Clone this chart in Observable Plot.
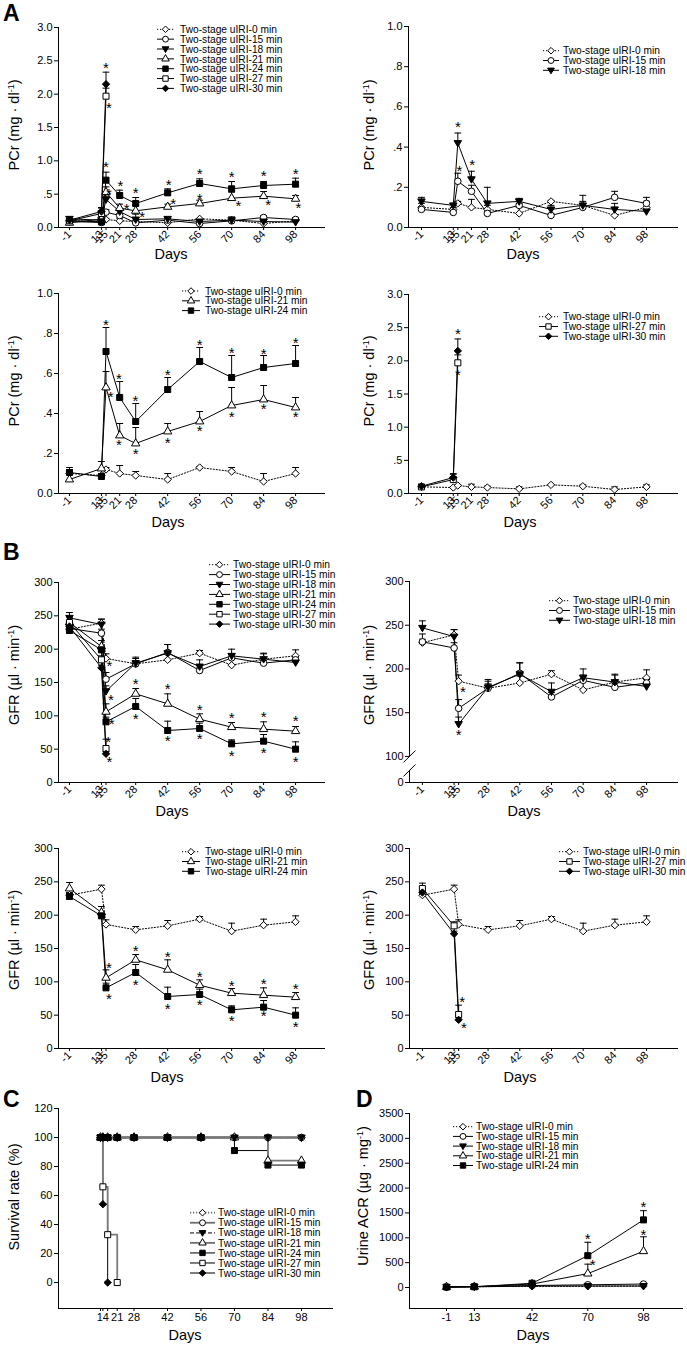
<!DOCTYPE html>
<html><head><meta charset="utf-8">
<script src="https://cdn.jsdelivr.net/npm/d3@7"></script>
<script src="https://cdn.jsdelivr.net/npm/@observablehq/plot@0.6"></script>
<style>
body{margin:0;background:#fff}
#page{position:relative;width:687px;height:1345px;overflow:hidden;background:#fff}
</style></head>
<body><div id="page"></div>
<script>
// ---------- DATA ----------
const groupKeys = [0, 15, 18, 21, 24, 27, 30];
const seriesLabels = ["Two-stage uIRI-0 min","Two-stage uIRI-15 min","Two-stage uIRI-18 min","Two-stage uIRI-21 min","Two-stage uIRI-24 min","Two-stage uIRI-27 min","Two-stage uIRI-30 min"];

// PCr (mg/dl)
const pcrDays = [-1, 13, 15, 21, 28, 42, 56, 70, 84, 98];
const pcrDaysEarly = [-1, 13, 15];
const pcr0 = [0.10, 0.09, 0.12, 0.10, 0.09, 0.07, 0.13, 0.11, 0.06, 0.10];
const pcr0Sem = [0.02, 0.01, 0.01, 0.04, 0.02, 0.03, 0.005, 0.02, 0.04, 0.03];
const pcr15 = [0.09, 0.075, 0.23, 0.18, 0.07, 0.11, 0.06, 0.10, 0.15, 0.12];
const pcr15Sem = [0.01, 0.01, 0.04, 0.03, 0.01, 0.01, 0.01, 0.01, 0.03, 0.03];
const pcr18 = [0.13, 0.11, 0.42, 0.24, 0.12, 0.13, 0.09, 0.11, 0.09, 0.08];
const pcr18Sem = [0.02, 0.01, 0.05, 0.04, 0.08, 0.015, 0.02, 0.05, 0.03, 0.02];
const pcr21 = [0.07, 0.125, 0.53, 0.29, 0.25, 0.31, 0.36, 0.44, 0.47, 0.43];
const pcr21Sem = [0.03, 0.035, 0.08, 0.06, 0.08, 0.04, 0.05, 0.09, 0.07, 0.05];
const pcr24 = [0.105, 0.085, 0.71, 0.48, 0.36, 0.52, 0.66, 0.58, 0.63, 0.65];
const pcr24Sem = [0.025, 0.01, 0.12, 0.08, 0.09, 0.06, 0.07, 0.11, 0.06, 0.09];
const pcr27 = [0.10, 0.21, 1.97];
const pcr27Sem = [0.02, 0.08, 0.12];
const pcr30 = [0.11, 0.24, 2.15];
const pcr30Sem = [0.02, 0.06, 0.18];

// GFR (µl/min)
const gfrDays = [-1, 13, 15, 28, 42, 56, 70, 84, 98];
const gfrDaysEarly = [-1, 13, 15];
const gfr0 = [230, 239, 186, 178, 184, 194, 176, 185, 190];
const gfr0Sem = [4, 6, 7, 5, 8, 4, 12, 9, 9];
const gfr15 = [231, 224, 155, 178, 195, 168, 187, 179, 184];
const gfr15Sem = [9, 6, 10, 8, 12, 5, 6, 4, 6];
const gfr18 = [247, 237, 137, 179, 194, 174, 190, 185, 180];
const gfr18Sem = [8, 8, 8, 9, 13, 10, 10, 8, 8];
const gfr21 = [240, 204, 106, 133, 118, 95, 83, 80, 77];
const gfr21Sem = [9, 9, 12, 8, 15, 8, 7, 11, 7];
const gfr24 = [228, 199, 91, 114, 78, 81, 58, 62, 50];
const gfr24Sem = [5, 4, 7, 12, 14, 8, 6, 10, 11];
const gfr27 = [240, 184, 51];
const gfr27Sem = [8, 6, 14];
const gfr30 = [234, 172, 43];
const gfr30Sem = [4, 4, 3];

// Survival rate (%)
const survDays = [14, 15, 17, 21, 28, 42, 56, 70, 84, 98];
const surv0 = [100, 100, 100, 100, 100, 100, 100, 100, 100, 100];
const surv15 = [100, 100, 100, 100, 100, 100, 100, 100, 100, 100];
const surv18 = [100, 100, 100, 100, 100, 100, 100, 100, 100, 100];
const surv21 = [100, 100, 100, 100, 100, 100, 100, 100, 84, 84];
const surv24 = [100, 100, 100, 100, 100, 100, 100, 91, 81, 81];
const surv27Days = [14, 15, 17, 21];
const surv27 = [100, 66, 33, 0];
const surv30Days = [14, 15, 17];
const surv30 = [100, 54, 0];

// Urine ACR (µg/mg)
const acrDays = [-1, 13, 42, 70, 98];
const acr0 = [10, 15, 25, 25, 30];
const acr0Sem = [2, 3, 5, 5, 8];
const acr15 = [10, 20, 40, 55, 70];
const acr15Sem = [2, 4, 8, 12, 15];
const acr18 = [10, 15, 30, 30, 30];
const acr18Sem = [2, 3, 6, 6, 8];
const acr21 = [10, 15, 70, 280, 730];
const acr21Sem = [2, 3, 15, 190, 290];
const acr24 = [10, 15, 85, 640, 1360];
const acr24Sem = [2, 3, 20, 270, 185];

// significance asterisks [day, value]
const starsA1 = [[15,2.45],[16.3,1.85],[15,0.97],[16.3,0.565],[21.3,0.675],[28,0.575],[42.4,0.70],[56,0.855],[70,0.815],[84,0.825],[98,0.865],[24,0.33],[30.8,0.21],[44.4,0.415],[56,0.48],[73,0.375],[86,0.40],[99.2,0.35]];
const starsA2 = [[15,0.52],[15.7,0.30],[21.3,0.33]];
const starsA3 = [[15,0.863],[20.6,0.59],[27.9,0.48],[42,0.61],[56,0.763],[70,0.72],[84,0.718],[98,0.77],[17,0.50],[20.6,0.26],[28,0.215],[42,0.27],[56,0.33],[70,0.40],[84,0.44],[98,0.40]];
const starsA4 = [[15,2.46],[15,1.85]];
const starsB1 = [[16.5,180],[17.2,130],[17.5,93],[16,66],[16.5,36],[28,154],[42,145.5],[56,115],[70,102.5],[84,104],[98,97.5],[28,101.5],[42,67.5],[56,70.5],[70,45],[84,50],[98,36.5]];
const starsB2 = [[15,129],[16.9,178]];
const starsB3 = [[16.3,126],[28,151.7],[42,142.8],[56,113],[70,99.5],[84,103],[98,94.5],[16.3,80.6],[28,100.5],[42,64.7],[56,70.6],[70,46.3],[84,54.7],[98,37.3]];
const starsB4 = [[16.6,75],[17.3,37]];
const starsD = [[70,1043],[98,1696],[72.5,538],[98,1130]];

// tick values
const ticksA = [-1, 13, 15, 21, 28, 42, 56, 70, 84, 98];
const ticksB = [-1, 13, 15, 28, 42, 56, 70, 84, 98];
const ticksC = [14, 15, 17, 21, 28, 42, 56, 70, 84, 98];
const ticksD = [-1, 13, 42, 70, 98];

// ---------- BUILD ----------
const FONT = "'Liberation Sans', Arial, Helvetica, sans-serif";
const page = document.getElementById("page");

const invTriangle = {draw(ctx, size) { const r = Math.sqrt(size / Math.PI); ctx.moveTo(-1.3 * r, -0.85 * r); ctx.lineTo(1.3 * r, -0.85 * r); ctx.lineTo(0, 1.35 * r); ctx.closePath(); }};
const capSym = {draw(ctx, size) { const r = Math.sqrt(size / Math.PI); ctx.moveTo(-r, 0); ctx.lineTo(r, 0); }};
const slashSym = {draw(ctx, size) { const r = Math.sqrt(size / Math.PI); ctx.moveTo(-r, r); ctx.lineTo(r, -r); }};

const style = {
  0: {symbol: d3.symbolDiamond2, fill: "white", dash: "1.2,1.8", r: 3.3},
  15: {symbol: d3.symbolCircle, fill: "white", r: 3.3},
  18: {symbol: invTriangle, fill: "black", r: 2.9},
  21: {symbol: d3.symbolTriangle, fill: "white", r: 3.1},
  24: {symbol: d3.symbolSquare, fill: "black", r: 3.4},
  27: {symbol: d3.symbolSquare, fill: "white", r: 3.4},
  30: {symbol: d3.symbolDiamond2, fill: "black", r: 3.3}
};

function rows(days, mean, sem, g) { return days.map((day, i) => ({day, v: mean[i], sem: sem ? sem[i] : 0, g})); }

const pcrRows = [
  ...rows(pcrDays, pcr0, pcr0Sem, 0), ...rows(pcrDays, pcr15, pcr15Sem, 15), ...rows(pcrDays, pcr18, pcr18Sem, 18),
  ...rows(pcrDays, pcr21, pcr21Sem, 21), ...rows(pcrDays, pcr24, pcr24Sem, 24),
  ...rows(pcrDaysEarly, pcr27, pcr27Sem, 27), ...rows(pcrDaysEarly, pcr30, pcr30Sem, 30)];
const gfrRows = [
  ...rows(gfrDays, gfr0, gfr0Sem, 0), ...rows(gfrDays, gfr15, gfr15Sem, 15), ...rows(gfrDays, gfr18, gfr18Sem, 18),
  ...rows(gfrDays, gfr21, gfr21Sem, 21), ...rows(gfrDays, gfr24, gfr24Sem, 24),
  ...rows(gfrDaysEarly, gfr27, gfr27Sem, 27), ...rows(gfrDaysEarly, gfr30, gfr30Sem, 30)];
const survRows = [
  ...rows(survDays, surv0, null, 0), ...rows(survDays, surv15, null, 15), ...rows(survDays, surv18, null, 18),
  ...rows(survDays, surv21, null, 21), ...rows(survDays, surv24, null, 24),
  ...rows(surv27Days, surv27, null, 27), ...rows(surv30Days, surv30, null, 30)];
const acrRows = [
  ...rows(acrDays, acr0, acr0Sem, 0), ...rows(acrDays, acr15, acr15Sem, 15), ...rows(acrDays, acr18, acr18Sem, 18),
  ...rows(acrDays, acr21, acr21Sem, 21), ...rows(acrDays, acr24, acr24Sem, 24)];

function seriesMarks(data, groups, opt = {}) {
  const curve = opt.curve || "linear";
  const lineColor = opt.lineColor || (() => "black");
  const lineWidth = opt.lineWidth || (() => 1);
  const dotOrder = opt.dotOrder || groups;
  const marks = [];
  for (const g of (opt.lineOrder || groups)) {
    const d = data.filter(r => r.g === g);
    marks.push(Plot.line(d, {x: "day", y: "v", curve, stroke: lineColor(g), strokeWidth: lineWidth(g), strokeDasharray: style[g].dash}));
  }
  if (opt.errors !== false) {
    for (const g of groups) {
      const d = data.filter(r => r.g === g && r.sem > 0);
      marks.push(Plot.ruleX(d, {x: "day", y1: "v", y2: r => r.v + r.sem, stroke: "black", strokeWidth: 1}));
      marks.push(Plot.dot(d, {x: "day", y: r => r.v + r.sem, symbol: capSym, r: 3.4, stroke: "black", fill: "none", strokeWidth: 1}));
    }
  }
  for (const g of dotOrder) {
    const d = data.filter(r => r.g === g);
    const s = style[g];
    marks.push(Plot.dot(d, {x: "day", y: "v", symbol: s.symbol, r: s.r, fill: s.fill, stroke: "black", strokeWidth: 1}));
  }
  return marks;
}

const fmtA = d => d === 0 ? "0.0" : (d < 1 ? d.toFixed(1).slice(1) : d.toFixed(1));

function panel(cfg) {
  const ml = 50, mr = 8, mt = 10, mb = 48;
  const width = (cfg.right - cfg.left) + ml + mr;
  const height = (cfg.bottom - cfg.top) + mt + mb;
  const x0 = cfg.xDomain[0];
  const marks = [];
  if (cfg.yAxisSegments) {
    marks.push(Plot.ruleX(cfg.yAxisSegments, {x: () => x0, y1: d => d[0], y2: d => d[1], stroke: "black"}));
    marks.push(Plot.dot(cfg.breakMarks, {x: () => x0, y: d => d, symbol: slashSym, r: 6, stroke: "black", fill: "none", strokeWidth: 1}));
  } else {
    marks.push(Plot.ruleX([x0], {stroke: "black"}));
  }
  marks.push(Plot.ruleY([cfg.yDomain[0]], {stroke: "black"}));
  marks.push(...cfg.marks);
  if (cfg.stars) marks.push(Plot.text(cfg.stars, {x: d => d[0], y: d => d[1], text: () => "*", fontSize: 15, dy: 4, fill: "black"}));
  marks.push(Plot.axisY({ticks: cfg.yTicks, tickFormat: cfg.yFmt || (d => String(d)), tickSize: 4, tickPadding: 2, label: null}));
  marks.push(Plot.axisX({ticks: cfg.xTicks, tickFormat: cfg.xFmt || (d => String(d)), tickRotate: cfg.rotate === undefined ? -45 : cfg.rotate, tickSize: 3, tickPadding: 2, label: null}));
  const svg = Plot.plot({
    width, height, marginLeft: ml, marginRight: mr, marginTop: mt, marginBottom: mb,
    x: {domain: cfg.xDomain}, y: {domain: cfg.yDomain},
    style: {fontFamily: FONT, fontSize: "11px", background: "none", overflow: "visible", color: "black"},
    marks
  });
  svg.style.position = "absolute";
  svg.style.left = (cfg.left - ml) + "px";
  svg.style.top = (cfg.top - mt) + "px";
  page.appendChild(svg);
}

const xDomL = [-5.8, 111.1];
const xDomR = [-6.7, 112.1];
const allG = [0, 15, 18, 21, 24, 27, 30];

// A row 1
panel({left: 58, right: 325, top: 27, bottom: 227, xDomain: xDomL, yDomain: [0, 3], yTicks: d3.range(0, 3.01, 0.5), yFmt: fmtA, xTicks: ticksA,
  marks: seriesMarks(pcrRows, allG), stars: starsA1});
panel({left: 408, right: 678, top: 26, bottom: 227, xDomain: xDomR, yDomain: [0, 1], yTicks: [0, 0.2, 0.4, 0.6, 0.8, 1.0], yFmt: fmtA, xTicks: ticksA,
  marks: seriesMarks(pcrRows, [0, 15, 18]), stars: starsA2});
// A row 2
panel({left: 58, right: 325, top: 293, bottom: 493, xDomain: xDomL, yDomain: [0, 1], yTicks: [0, 0.2, 0.4, 0.6, 0.8, 1.0], yFmt: fmtA, xTicks: ticksA,
  marks: seriesMarks(pcrRows, [0, 21, 24]), stars: starsA3});
panel({left: 408, right: 678, top: 294, bottom: 493, xDomain: xDomR, yDomain: [0, 3], yTicks: d3.range(0, 3.01, 0.5), yFmt: fmtA, xTicks: ticksA,
  marks: seriesMarks(pcrRows, [0, 27, 30]), stars: starsA4});
// B row 1
panel({left: 58, right: 325, top: 582, bottom: 782, xDomain: xDomL, yDomain: [0, 300], yTicks: [0, 50, 100, 150, 200, 250, 300], xTicks: ticksB,
  marks: seriesMarks(gfrRows, allG), stars: starsB1});
// B2: broken axis — the 0–100 stretch is collapsed, so the bottom of the linear domain (70.2) carries the "0" tick
const gfrBreakBase = 70.2;
panel({left: 409, right: 678, top: 581, bottom: 782, xDomain: xDomR, yDomain: [gfrBreakBase, 300], yTicks: [gfrBreakBase, 100, 150, 200, 250, 300],
  yFmt: d => d < 100 ? "0" : String(d), xTicks: ticksB,
  yAxisSegments: [[gfrBreakBase, 84], [100, 300]], breakMarks: [84, 100],
  marks: seriesMarks(gfrRows, [0, 15, 18]), stars: starsB2});
// B row 2
panel({left: 58, right: 325, top: 848, bottom: 1048, xDomain: xDomL, yDomain: [0, 300], yTicks: [0, 50, 100, 150, 200, 250, 300], xTicks: ticksB,
  marks: seriesMarks(gfrRows, [0, 21, 24]), stars: starsB3});
panel({left: 409, right: 678, top: 848, bottom: 1048, xDomain: xDomR, yDomain: [0, 300], yTicks: [0, 50, 100, 150, 200, 250, 300], xTicks: ticksB,
  marks: seriesMarks(gfrRows, [0, 27, 30]), stars: starsB4});
// C survival
const greyC = g => (g === 24 || g === 30) ? "black" : "#7a7a7a";
panel({left: 58, right: 333, top: 1108, bottom: 1308, xDomain: [-3.55, 111.4], yDomain: [-17.9, 120], yTicks: [0, 20, 40, 60, 80, 100, 120], xTicks: ticksC, rotate: 0,
  xFmt: d => d === 15 ? "14" : (d === 14 || d === 17) ? "" : String(d),
  marks: seriesMarks(survRows, allG, {curve: "step-after", errors: false, lineColor: greyC, lineWidth: g => greyC(g) === "black" ? 1 : 1.8,
    lineOrder: [24, 30, 0, 15, 18, 21, 27], dotOrder: [0, 15, 21, 27, 24, 18, 30]})});
// D ACR
panel({left: 409, right: 683, top: 1113, bottom: 1308, xDomain: [-19.6, 118.1], yDomain: [-422, 3500], yTicks: d3.range(0, 3501, 500), xTicks: ticksD, rotate: 0,
  marks: seriesMarks(acrRows, [0, 15, 18, 21, 24]), stars: starsD});

// ---------- OVERLAY TEXT / LEGENDS ----------
const ov = d3.select(page).append("svg").attr("width", 687).attr("height", 1345)
  .style("position", "absolute").style("left", "0").style("top", "0").style("font-family", FONT).style("pointer-events", "none");

function label(x, y, t, size, opts = {}) {
  return ov.append("text").attr("x", x).attr("y", y).attr("font-size", size)
    .attr("text-anchor", opts.anchor || "middle").attr("font-weight", opts.bold ? "bold" : null).attr("fill", "black").text(t);
}
[["A", 3, 21], ["B", 3, 560], ["C", 3, 1107], ["D", 356, 1107]].forEach(([t, x, y]) => label(x, y, t, 23, {anchor: "start", bold: true}));
[[171, 259], [523, 259], [168, 527], [520, 527], [172, 816], [524, 816], [167, 1082], [520, 1082], [185, 1340], [533, 1340]]
  .forEach(([x, y]) => label(x, y, "Days", 14.5));

function ytitle(x, y, main, sup, tail) {
  const t = ov.append("text").attr("transform", `translate(${x},${y}) rotate(-90)`).attr("text-anchor", "middle").attr("font-size", 14.5).attr("fill", "black");
  t.append("tspan").text(main);
  if (sup) {
    t.append("tspan").attr("dy", -5.5).attr("font-size", 9).text(sup);
    t.append("tspan").attr("dy", 5.5).text(tail);
  }
}
ytitle(19, 125, "PCr (mg · dl", "-1", ")");
ytitle(374, 125, "PCr (mg · dl", "-1", ")");
ytitle(19, 381, "PCr (mg · dl", "-1", ")");
ytitle(374, 381, "PCr (mg · dl", "-1", ")");
ytitle(19, 675, "GFR (µl · min", "-1", ")");
ytitle(374, 675, "GFR (µl · min", "-1", ")");
ytitle(19, 940, "GFR (µl · min", "-1", ")");
ytitle(374, 940, "GFR (µl · min", "-1", ")");
ytitle(19, 1197, "Survival rate (%)");
ytitle(368, 1196, "Urine ACR (µg · mg", "-1", ")");

function legend(groups, o) {
  groups.forEach((g, i) => {
    const y = o.y0 + i * o.dy;
    const s = style[g];
    const col = o.color ? o.color(g) : "black";
    ov.append("line").attr("x1", o.x1).attr("x2", o.x2).attr("y1", y).attr("y2", y)
      .attr("stroke", col).attr("stroke-width", o.sw || 1).attr("stroke-dasharray", s.dash || (o.dash18 && g === 18 ? "4,2" : null));
    ov.append("path").attr("transform", `translate(${(o.x1 + o.x2) / 2},${y})`)
      .attr("d", d3.symbol(s.symbol, Math.PI * s.r * s.r * 0.8)())
      .attr("fill", s.fill).attr("stroke", "black").attr("stroke-width", 1);
    ov.append("text").attr("x", o.tx).attr("y", y).attr("dy", "0.36em").attr("font-size", 10.2).attr("fill", "black")
      .text(seriesLabels[groupKeys.indexOf(g)]);
  });
}
legend(allG, {x1: 157, x2: 174, tx: 180, y0: 29.3, dy: 9.85});
legend([0, 15, 18], {x1: 543, x2: 559, tx: 563, y0: 50.7, dy: 9.8});
legend([0, 21, 24], {x1: 182, x2: 200, tx: 205, y0: 291, dy: 9.8});
legend([0, 27, 30], {x1: 539, x2: 558, tx: 563, y0: 316.7, dy: 9.8});
legend(allG, {x1: 209, x2: 230, tx: 233, y0: 564.7, dy: 9.9});
legend([0, 15, 18], {x1: 549, x2: 570, tx: 573, y0: 600.7, dy: 9.8});
legend([0, 21, 24], {x1: 182, x2: 200, tx: 205, y0: 851.7, dy: 9.8});
legend([0, 27, 30], {x1: 559, x2: 580, tx: 583, y0: 851.7, dy: 9.8});
legend(allG, {x1: 190, x2: 215, tx: 218, y0: 1212.7, dy: 10.05, color: () => "#6e6e6e", sw: 1.8, dash18: true});
legend([0, 15, 18, 21, 24], {x1: 453, x2: 473, tx: 476, y0: 1126.7, dy: 9.7});
</script>
</body></html>
